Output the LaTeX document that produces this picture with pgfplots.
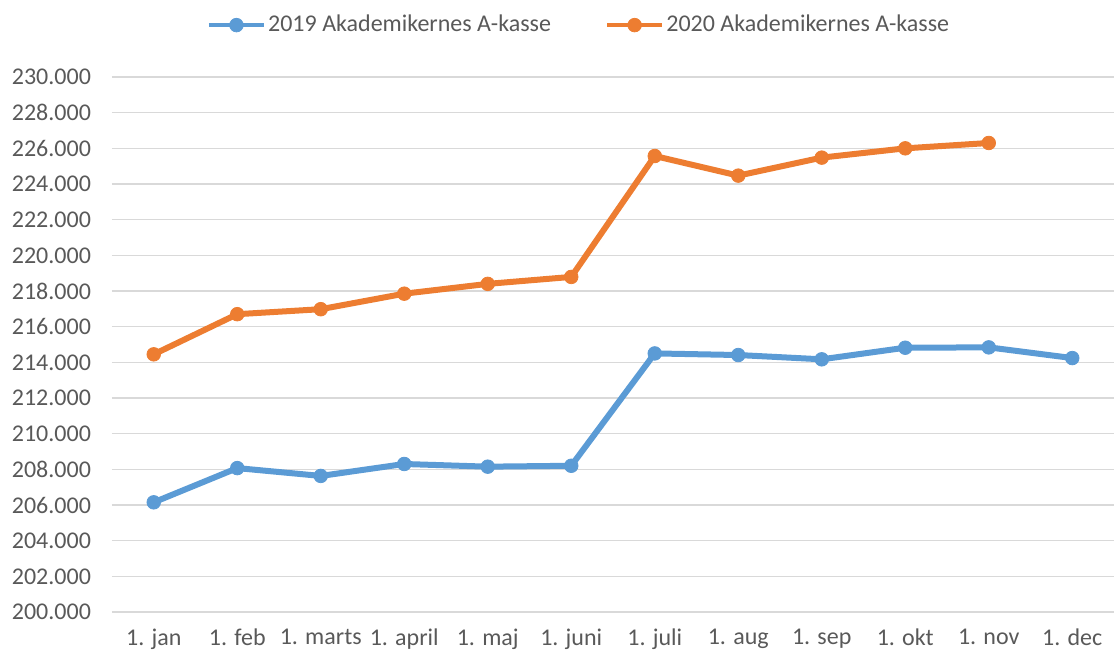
\documentclass[border=0pt]{standalone}
\usepackage{pgfplots}
\pgfplotsset{compat=1.18}
\usepackage{fontspec}
\setmainfont{Carlito}
\definecolor{cblue}{RGB}{91,155,213}
\definecolor{corange}{RGB}{237,125,49}
\definecolor{cgrid}{RGB}{217,217,217}
\definecolor{ctext}{RGB}{89,89,89}
\begin{document}
\begin{tikzpicture}
\path[use as bounding box] (-56pt,-21.5pt) rectangle (503pt,306pt);
\begin{axis}[
  at={(0,0)}, anchor=south west,
  scale only axis, width=501pt, height=267.5pt,
  xmin=-0.5, xmax=11.5, ymin=200, ymax=230,
  xtick={0,...,11},
  xticklabels={1. jan,1. feb,1. marts,1. april,1. maj,1. juni,1. juli,1. aug,1. sep,1. okt,1. nov,1. dec},
  ytick={200,202,...,230},
  yticklabels={200.000,202.000,204.000,206.000,208.000,210.000,212.000,214.000,216.000,218.000,220.000,222.000,224.000,226.000,228.000,230.000},
  axis line style={draw=none},
  major tick length=0pt,
  ymajorgrids, grid style={cgrid, line width=0.75pt},
  tick label style={font=\fontsize{12}{14}\selectfont, text=ctext},
  yticklabel style={xshift=-7pt},
  xticklabel style={yshift=-5pt},
  legend style={at={(0.466,1.097)}, anchor=center, draw=none, fill=none,
    legend columns=2, font=\fontsize{12}{14}\selectfont, text=ctext,
    /tikz/every even column/.append style={column sep=26pt},
    nodes={inner sep=1pt}},
  legend image code/.code={\draw[mark repeat=2,mark phase=2,#1,line width=2.2pt] plot coordinates {(0pt,0pt) (13.75pt,0pt) (27.5pt,0pt)};},
  clip=false,
]
\addplot[cblue, line width=3pt, mark=*, mark size=3.4pt, mark options={solid, line width=0.4pt}] coordinates {
(0,206.150) (1,208.070) (2,207.630) (3,208.300) (4,208.150) (5,208.200)
(6,214.500) (7,214.410) (8,214.170) (9,214.820) (10,214.840) (11,214.240)};
\addlegendentry{2019 Akademikernes A-kasse}
\addplot[corange, line width=3pt, mark=*, mark size=3.4pt, mark options={solid, line width=0.4pt}] coordinates {
(0,214.450) (1,216.700) (2,216.980) (3,217.850) (4,218.400) (5,218.790)
(6,225.570) (7,224.470) (8,225.480) (9,226.000) (10,226.300)};
\addlegendentry{2020 Akademikernes A-kasse}
\end{axis}
\end{tikzpicture}
\end{document}
